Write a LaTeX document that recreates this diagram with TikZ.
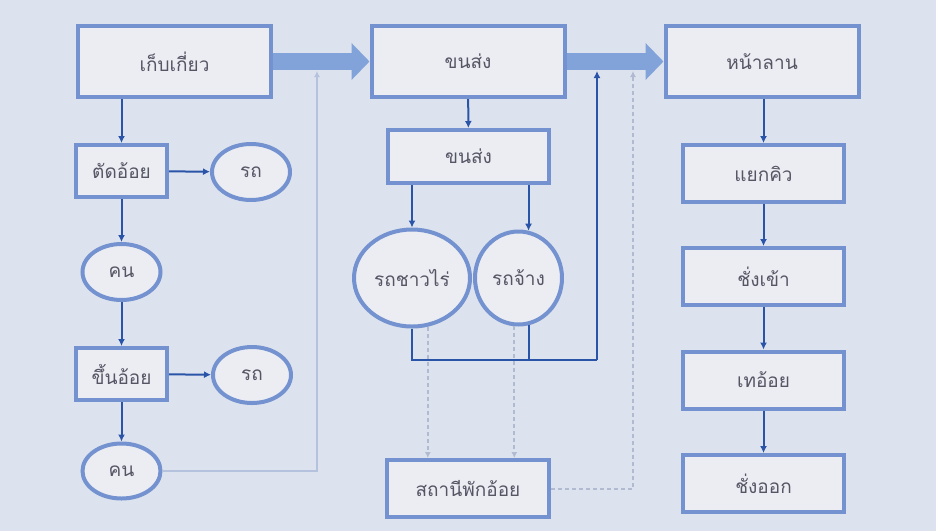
\documentclass[tikz,border=0pt]{standalone}
\usepackage{fontspec}
\newfontfamily\thaifont[Script=Thai]{Loma}
\usetikzlibrary{arrows.meta}
\definecolor{bgblue}{RGB}{221,227,238}
\definecolor{boxfill}{RGB}{235,237,243}
\definecolor{rimblue}{RGB}{115,146,207}
\definecolor{linkblue}{RGB}{42,84,168}
\definecolor{fatblue}{RGB}{130,163,218}
\definecolor{feedgray}{RGB}{180,194,222}
\definecolor{dashgray}{RGB}{176,186,208}
\definecolor{txtgray}{RGB}{85,85,100}
\tikzset{
  bigbox/.style={draw=rimblue, fill=boxfill, line width=4pt, rectangle,
    minimum width=193pt, minimum height=71pt, inner sep=0pt,
    font=\thaifont\fontsize{19}{22}\selectfont, text=txtgray
  },
  smallbox/.style={bigbox, minimum width=161pt, minimum height=55pt
  },
  oval/.style={bigbox, ellipse, minimum width=78pt, minimum height=56pt
  },
  link/.style={-{Latex[length=7pt,width=7pt]}, draw=linkblue, line width=2pt
  },
  fatarrow/.style={-{Triangle[length=18pt 0 0,width=36pt 0 0]}, draw=fatblue,
    line width=17pt
  },
  feed/.style={-{Latex[length=6pt,width=6pt]}, draw=feedgray, line width=1.6pt
  },
  dashfeed/.style={feed, draw=dashgray, line width=2pt, dash pattern=on 4pt off 3pt
  }
}
\usetikzlibrary{shapes.geometric}
\begin{document}
\begin{tikzpicture}[x=1pt, y=-1pt]
 \fill[bgblue] (0, 0) rectangle (936, 531);
 \useasboundingbox (0, 0) rectangle (936, 531);

 % top row
 \node[bigbox] (harvest) at (174.5, 61.5) {เก็บเกี่ยว};
 \node[bigbox] (trans) at (468, 61.5) {ขนส่ง};
 \node[bigbox] (yard) at (762, 61.5) {หน้าลาน};

 % left column
 \node[smallbox, minimum width=91pt, minimum height=52pt] (cut) at (121.5, 171) {ตัดอ้อย};
 \node[oval] (cara) at (251, 172) {รถ};
 \node[oval] (mana) at (121.5, 272) {คน};
 \node[smallbox, minimum width=91pt, minimum height=52pt] (load) at (121.5, 374) {ขึ้นอ้อย};
 \node[oval] (carb) at (252, 375) {รถ};
 \node[oval, minimum height=55pt] (manb) at (121.5, 471) {คน};

 % middle column
 \node[smallbox, minimum height=53pt] (sub) at (468.5, 156.5) {ขนส่ง};
 \node[oval, minimum width=116pt, minimum height=97pt] (farmcar) at (412, 278) {รถชาวไร่};
 \node[oval, minimum width=87pt, minimum height=93pt] (hirecar) at (518.5, 278) {รถจ้าง};
 \node[smallbox, minimum width=162pt, minimum height=57pt] (station) at (468, 488.5) {สถานีพักอ้อย};

 % right column
 \node[smallbox, minimum height=57pt] (queue) at (763.5, 173.5) {แยกคิว};
 \node[smallbox, minimum height=57pt] (wgin) at (763.5, 276.5) {ชั่งเข้า};
 \node[smallbox, minimum height=57pt] (dump) at (763.5, 380) {เทอ้อย};
 \node[smallbox, minimum height=57pt] (wgout) at (763.5, 483.5) {ชั่งออก};

 \coordinate (tipa) at (317, 71);
 \coordinate (tipb) at (597, 71);
 \coordinate (tipc) at (633, 71);
 \coordinate (join) at (597, 360);

 % feeds into the big arrows
 \draw[feed] (manb.east) -- (manb.east -| tipa) -- (tipa);
 \draw[dashfeed] (farmcar.-72) -- (farmcar.-72 |- station.north);
 \draw[dashfeed] (hirecar.-95) -- (hirecar.-95 |- station.north);
 \draw[dashfeed] (station.east) -- (station.east -| tipc) -- (tipc);

 \draw[fatarrow] (harvest.east) -- (trans.west);
 \draw[fatarrow] (trans.east) -- (yard.west);

 \draw[link] (harvest.south -| cut) -- (cut.north);
 \draw[link] (cut) -- (cara);
 \draw[link] (cut) -- (mana);
 \draw[link] (mana) -- (load);
 \draw[link] (load) -- (carb);
 \draw[link] (load) -- (manb);

 \draw[link] (trans) -- (sub);
 \draw[link] (sub.south -| farmcar) -- (farmcar.north);
 \draw[link] (sub.south -| hirecar.78) -- (hirecar.78);
 \draw[line width=2pt, linkblue] (farmcar.south) -- (farmcar.south |- join) -- (join);
 \draw[line width=2pt, linkblue] (hirecar.-78) -- (hirecar.-78 |- join);
 \draw[link] (join) -- (tipb);

 \foreach \a/\b in {yard/queue, queue/wgin, wgin/dump, dump/wgout} {
   \draw[link] (\a.south -| queue) -- (\b.north);
  }

\end{tikzpicture}
\end{document}
